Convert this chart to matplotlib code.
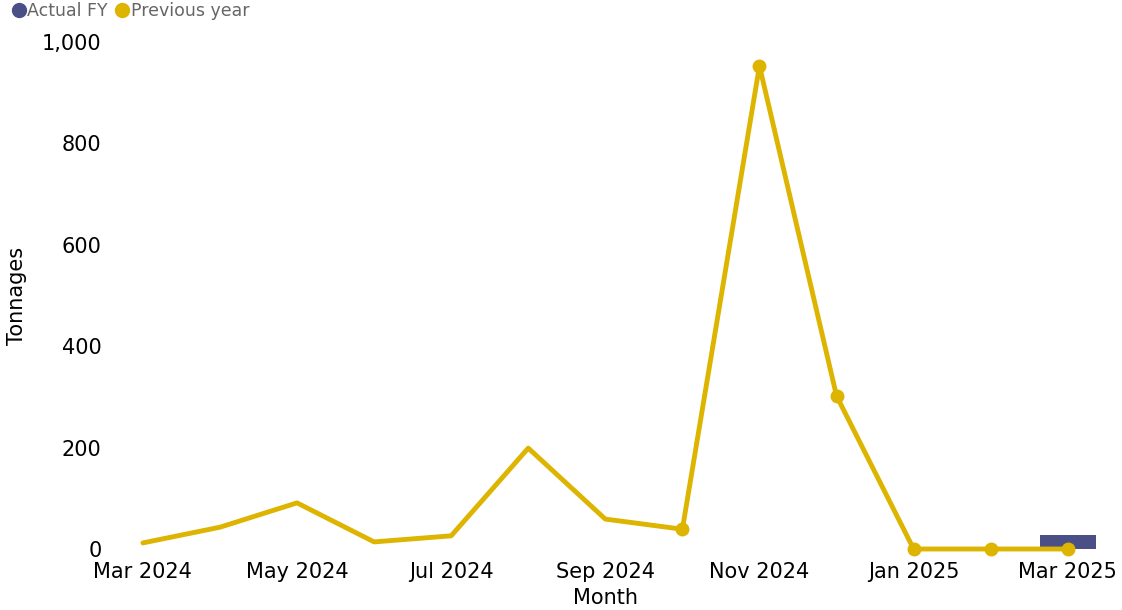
import matplotlib
matplotlib.use("Agg")
import matplotlib.pyplot as plt
from matplotlib.lines import Line2D

months = ["Mar 2024", "Apr 2024", "May 2024", "Jun 2024", "Jul 2024", "Aug 2024",
          "Sep 2024", "Oct 2024", "Nov 2024", "Dec 2024", "Jan 2025", "Feb 2025", "Mar 2025"]
previous_year = [12, 43, 91, 14, 26, 199, 59, 39, 953, 302, 0, 0, 0]
actual_fy = [None] * 12 + [28]
marker_idx = [7, 8, 9, 10, 11, 12]

gold = "#DDB400"
navy = "#4A4F85"

plt.rcParams['font.family'] = ['DejaVu Sans']
fig = plt.figure(figsize=(11.22, 6.10), dpi=100)
ax = fig.add_axes([0.093, 0.10, 0.893, 0.831])

x = list(range(len(months)))
bx = [i for i, v in zip(x, actual_fy) if v is not None]
bv = [v for v in actual_fy if v is not None]
ax.bar(bx, bv, width=0.73, color=navy, zorder=2)
ax.plot(x, previous_year, color=gold, linewidth=3.5, solid_capstyle='round',
        marker='o', markersize=9, markevery=marker_idx, zorder=3, clip_on=False)

fs = 15
ax.set_xlim(-0.5, len(months) - 0.5)
ax.set_ylim(0, 1000)
ax.set_yticks([0, 200, 400, 600, 800, 1000])
ax.set_yticklabels(["0", "200", "400", "600", "800", "1,000"], fontsize=fs)
ax.set_xticks(x[::2])
ax.set_xticklabels(months[::2], fontsize=fs)
ax.tick_params(axis='x', length=0, pad=9)
ax.tick_params(axis='y', length=0, pad=2)
for s in ax.spines.values():
    s.set_visible(False)
ax.set_ylabel("Tonnages", fontsize=fs, labelpad=11)
ax.set_xlabel("Month", fontsize=fs, labelpad=5)

handles = [Line2D([], [], linestyle='none', marker='o', markersize=10, color=navy),
           Line2D([], [], linestyle='none', marker='o', markersize=10, color=gold)]
leg = fig.legend(handles, ["Actual FY", "Previous year"], loc='upper left',
                 bbox_to_anchor=(-0.005, 1.023), ncol=2, frameon=False, fontsize=12.5,
                 handletextpad=0.0, columnspacing=0.3, handlelength=1.0)
for t in leg.get_texts():
    t.set_color("#666666")

fig.savefig("out.png", dpi=100)
